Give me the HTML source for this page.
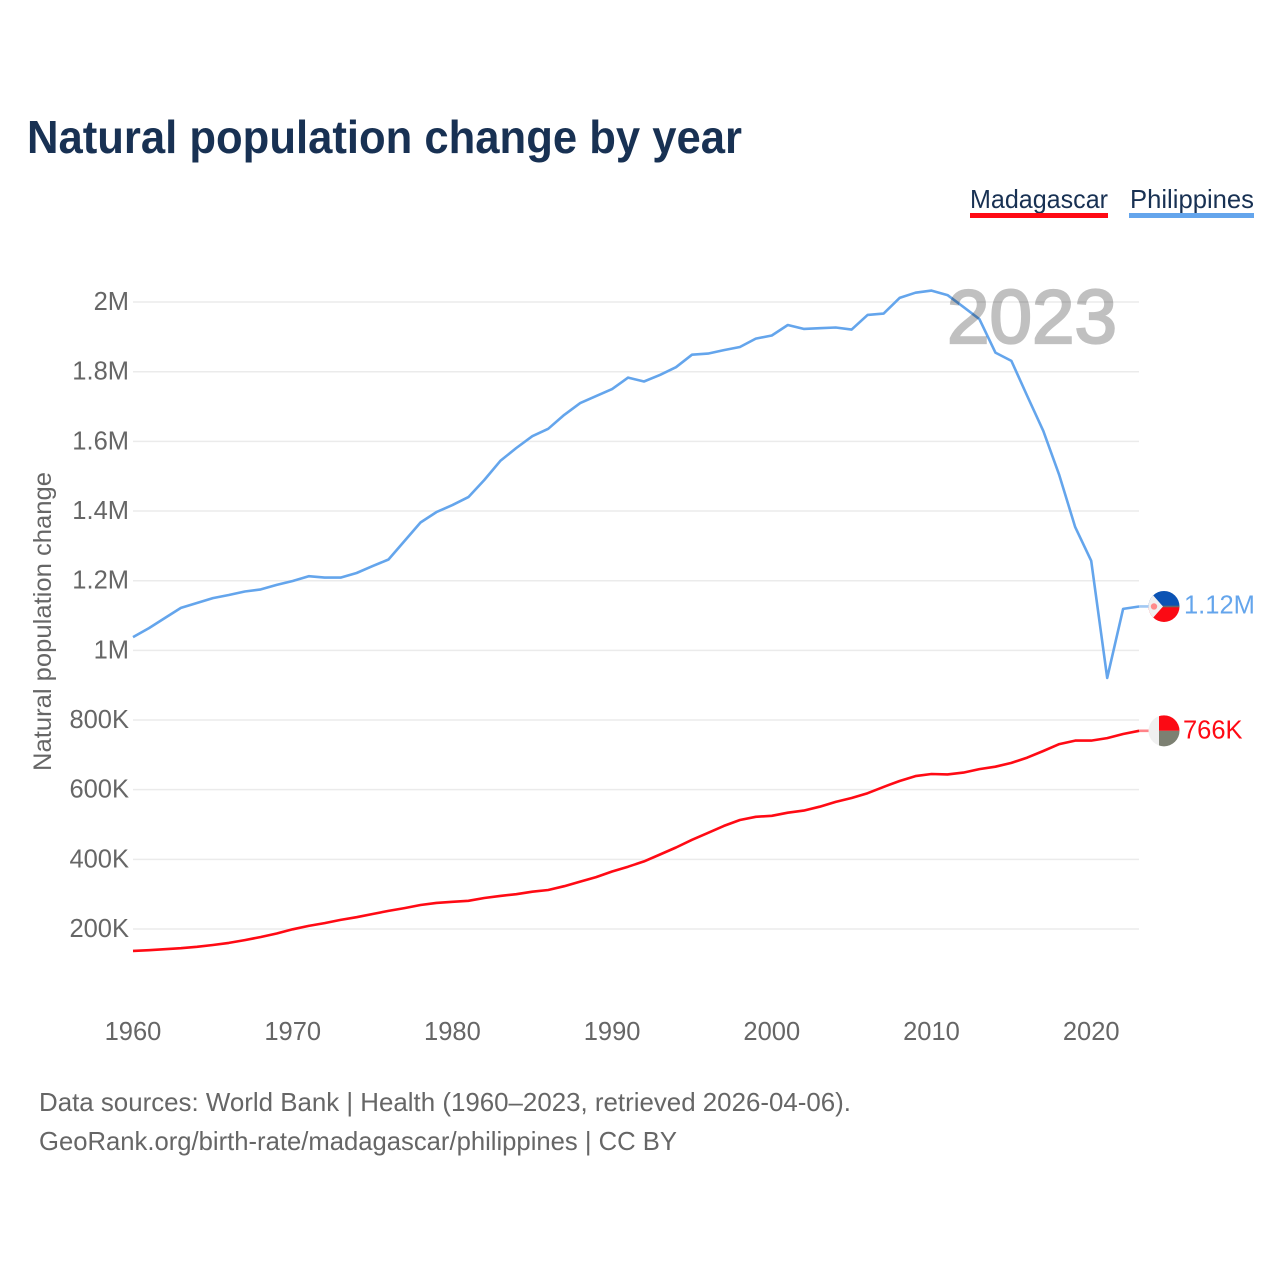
<!DOCTYPE html>
<html lang="en">
<head>
<meta charset="utf-8">
<title>Natural population change by year</title>
<style>
html,body{margin:0;padding:0;background:#fff}
svg{display:block}
text{font-family:"Liberation Sans",sans-serif}
</style>
</head>
<body>
<svg id="chart" xmlns="http://www.w3.org/2000/svg" width="1280" height="1280" viewBox="0 0 1280 1280">
<rect width="1280" height="1280" fill="#fff"/>
<text x="27" y="153" font-size="46" font-weight="700" fill="#183153" textLength="715" lengthAdjust="spacingAndGlyphs">Natural population change by year</text>
<g>
<text x="970" y="208" font-size="26" fill="#183153" textLength="138" lengthAdjust="spacingAndGlyphs">Madagascar</text>
<rect x="970" y="213" width="138" height="5" fill="#ff0a14"/>
</g>
<g>
<text x="1130" y="208" font-size="26" fill="#183153" textLength="124" lengthAdjust="spacingAndGlyphs">Philippines</text>
<rect x="1129" y="213" width="125" height="5" fill="#64a5ec"/>
</g>
<g id="grid"></g>
<g id="yticks"></g>
<g id="xticks"></g>
<text transform="translate(51,771) rotate(-90)" font-size="25" fill="#666" textLength="299" lengthAdjust="spacingAndGlyphs">Natural population change</text>
<g id="series"></g>
<text x="947" y="343" font-size="76" font-weight="400" fill="#c0c0c0" stroke="#c0c0c0" stroke-width="2.2" textLength="170" lengthAdjust="spacingAndGlyphs" style="mix-blend-mode:multiply">2023</text>
<defs>
<clipPath id="clip-ph"><circle id="clip-ph-c" r="15.5"/></clipPath>
<clipPath id="clip-mg"><circle id="clip-mg-c" r="15.5"/></clipPath>
</defs>
<g id="flag-ph" clip-path="url(#clip-ph)"></g>
<g id="flag-mg" clip-path="url(#clip-mg)"></g>
<text id="end-ph" x="1184" font-size="25.5" fill="#64a5ec"></text>
<text id="end-mg" x="1183" font-size="25.5" fill="#ff0a14"></text>
<text x="39" y="1111" font-size="26" fill="#666" textLength="812" lengthAdjust="spacingAndGlyphs">Data sources: World Bank | Health (1960–2023, retrieved 2026-04-06).</text>
<a><text x="39" y="1150" font-size="26" fill="#666" textLength="638" lengthAdjust="spacingAndGlyphs">GeoRank.org/birth-rate/madagascar/philippines | CC BY</text></a>
</svg>
<script>
const firstYear = 1960;
const philippines = [1038,1064,1093,1122,1136,1150,1159,1169,1175,1188,1199,1213,1209,1209,1222,1242,1261,1314,1367,1397,1417,1440,1489,1544,1581,1615,1636,1676,1710,1730,1750,1783,1772,1791,1813,1849,1852,1862,1871,1895,1904,1934,1923,1925,1927,1921,1963,1967,2012,2027,2033,2020,1986,1951,1855,1831,1730,1630,1503,1354,1257,921,1119,1126];
const madagascar = [137,139,142,145,149,154,160,168,177,187,199,209,217,226,234,243,252,260,269,275,278,281,289,295,300,307,312,323,336,349,365,379,394,414,434,456,476,496,513,522,525,534,540,551,565,576,590,608,625,639,645,644,649,659,666,677,692,711,731,741,741,748,760,769];
const yTickValues = [200,400,600,800,1000,1200,1400,1600,1800,2000];
const yTickLabels = ['200K','400K','600K','800K','1M','1.2M','1.4M','1.6M','1.8M','2M'];
const xTickYears = [1960,1970,1980,1990,2000,2010,2020];
const endLabelPhilippines = '1.12M';
const endLabelMadagascar = '766K';

const NS = 'http://www.w3.org/2000/svg';
const x = yr => 133 + (yr - 1960) * 15.97;
const y = v => 929 - (v - 200) * 0.3483;

function make(tag, attrs, parent, txt) {
  const el = document.createElementNS(NS, tag);
  for (const k in attrs) el.setAttribute(k, attrs[k]);
  if (txt !== undefined) el.textContent = txt;
  parent.appendChild(el);
  return el;
}

const grid = document.getElementById('grid');
const yticks = document.getElementById('yticks');
const xticks = document.getElementById('xticks');
const series = document.getElementById('series');

yTickValues.forEach((v, i) => {
  const ln = make('line', {x1: 133, x2: 1139, y1: y(v), y2: y(v), stroke: '#ebebeb', 'stroke-width': 1.5}, grid);
  
  
  const t = make('text', {x: 129, y: y(v) + 8, 'text-anchor': 'end', 'font-size': 25.5, fill: '#666'}, yticks, yTickLabels[i]);
  
  
});

xTickYears.forEach(yr => {
  const t = make('text', {x: x(yr), y: 1040, 'text-anchor': 'middle', 'font-size': 25.5, fill: '#666'}, xticks, String(yr));
  
  
});

function pts(arr) {
  return arr.map((v, i) => x(firstYear + i).toFixed(1) + ',' + y(v).toFixed(1)).join(' ');
}

const markerX = 1164;
const lastPh = philippines[philippines.length - 1];
const lastMg = madagascar[madagascar.length - 1];
const endX = x(firstYear + philippines.length - 1);

const linePh = make('polyline', {points: pts(philippines), fill: 'none', stroke: '#64a5ec', 'stroke-width': 2.6, 'stroke-linejoin': 'round'}, series);


const stubPh = make('line', {x1: endX, x2: markerX, y1: y(lastPh), y2: y(lastPh), stroke: '#64a5ec', 'stroke-width': 2.6, opacity: 0.6}, series);



const lineMg = make('polyline', {points: pts(madagascar), fill: 'none', stroke: '#ff0a14', 'stroke-width': 2.6, 'stroke-linejoin': 'round'}, series);


const stubMg = make('line', {x1: endX, x2: markerX, y1: y(lastMg), y2: y(lastMg), stroke: '#ff0a14', 'stroke-width': 2.6, opacity: 0.5}, series);



const py = y(lastPh);
const my = y(lastMg);
const cp = document.getElementById('clip-ph-c');
cp.setAttribute('cx', markerX);
cp.setAttribute('cy', py);
const cm = document.getElementById('clip-mg-c');
cm.setAttribute('cx', markerX);
cm.setAttribute('cy', my);

const fp = document.getElementById('flag-ph');
const l = markerX - 16;
make('rect', {x: l, y: py - 16, width: 32, height: 16, fill: '#0b53b4'}, fp);
make('rect', {x: l, y: py, width: 32, height: 16, fill: '#fb0a14'}, fp);
make('rect', {x: l + 10, y: py - 0.8, width: 22, height: 1.6, fill: '#66666a'}, fp);
make('polygon', {points: `${l},${py - 17} ${l + 15},${py} ${l},${py + 17}`, fill: '#f0f0f0'}, fp);
make('circle', {cx: l + 6, cy: py, r: 3.2, fill: '#ff8a8a'}, fp);

const fm = document.getElementById('flag-mg');
make('rect', {x: l, y: my - 16, width: 32, height: 32, fill: '#f0f0f0'}, fm);
make('rect', {x: markerX - 5, y: my - 16, width: 21, height: 16, fill: '#fb0a14'}, fm);
make('rect', {x: markerX - 5, y: my, width: 21, height: 16, fill: '#7c8072'}, fm);

const ep = document.getElementById('end-ph');
ep.setAttribute('y', py + 7);
ep.textContent = endLabelPhilippines;
const em = document.getElementById('end-mg');
em.setAttribute('y', my + 7.5);
em.textContent = endLabelMadagascar;
</script>
</body>
</html>
